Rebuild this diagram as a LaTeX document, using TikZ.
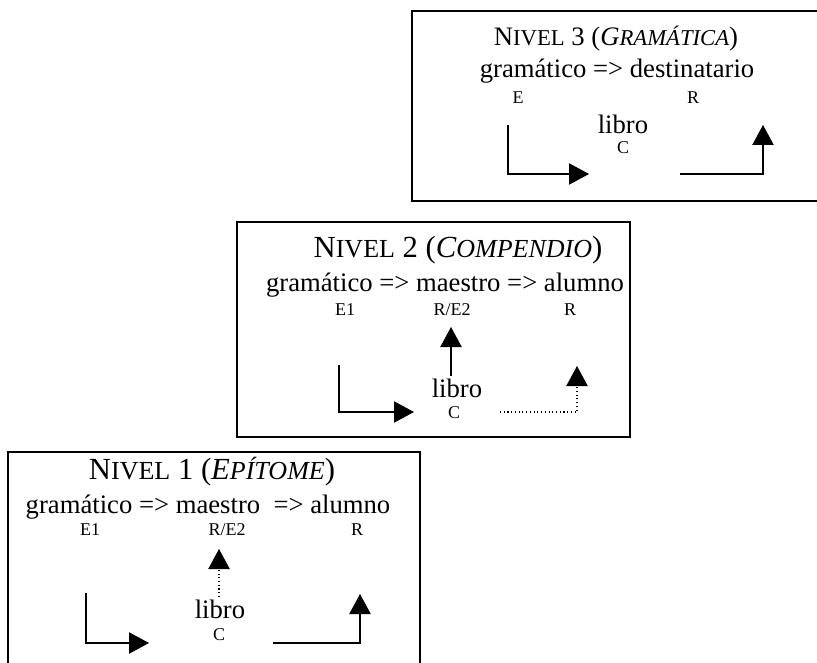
\documentclass[tikz,border=0pt]{standalone}
\usepackage{fontspec}
\setmainfont{Liberation Serif}
\usepackage{tikz}
\usetikzlibrary{positioning,arrows.meta}
\newcommand{\smcaps}[1]{{\fontsize{19.5}{22}\selectfont #1}}
\newcommand{\smcapsb}[1]{{\fontsize{17}{20}\selectfont #1}}

\begin{document}
\begin{tikzpicture}[x=0.75pt,y=-0.75pt,
  frame/.style={draw=black, line width=1.3pt},
  big/.style={inner sep=0pt, font=\fontsize{20}{24}\selectfont},
  head/.style={inner sep=0pt, font=\fontsize{23}{27}\selectfont},
  lbl/.style={inner sep=0pt, font=\fontsize{13.5}{16}\selectfont},
  arrow/.style={-{Triangle[length=15pt,width=16pt]}, line width=0.8pt},
  dotarrow/.style={arrow, dotted}
]
\useasboundingbox (0,0) rectangle (817,663);
\clip (0,0) rectangle (817,663);

% nivel 3
\draw[frame] (412,11) rectangle (850,201);
\node[big] (t3) at (616,39) {N\smcapsb{IVEL} 3 (\textit{G\smcapsb{RAMÁTICA}})};
\node[big] (g3) at (617,71) {gramático => destinatario};
\node[lbl] (e3) at (518,98) {E};
\node[lbl] (r3) at (693,98) {R};
\node[big] (l3) at (623,124) {libro};
\node[lbl] (c3) at (623,148) {C};
\coordinate (a3s) at (508,125);
\coordinate (a3e) at (589,174);
\coordinate (b3s) at (680,174);
\coordinate (b3e) at (763,125);
\draw[arrow] (a3s) |- (a3e);
\draw[arrow] (b3s) -| (b3e);

% nivel 2
\draw[frame] (237,222) rectangle (630,437);
\node[head] (t2) at (458,250) {N\smcaps{IVEL} 2 (\textit{C\smcaps{OMPENDIO}})};
\node[big] (g2) at (445,285) {gramático => maestro => alumno};
\node[lbl] (e2) at (345,310) {E1};
\node[lbl] (m2) at (452,310) {R/E2};
\node[lbl] (r2) at (570,310) {R};
\node[big] (l2) at (457,388) {libro};
\node[lbl] (c2) at (454,413) {C};
\coordinate (u2s) at (451,376);
\coordinate (u2e) at (451,327);
\coordinate (a2s) at (339,365);
\coordinate (a2e) at (414,412);
\coordinate (b2s) at (500,412);
\coordinate (b2e) at (577,366);
\draw[arrow] (u2s) -- (u2e);
\draw[arrow] (a2s) |- (a2e);
\draw[dotarrow] (b2s) -| (b2e);

% nivel 1
\draw[frame] (8,452) rectangle (420,700);
\node[head] (t1) at (212,472) {N\smcaps{IVEL} 1 (\textit{E\smcaps{PÍTOME}})};
\node[big] (g1) at (208,507) {gramático => maestro \ => alumno};
\node[lbl] (e1) at (90,530) {E1};
\node[lbl] (m1) at (227,530) {R/E2};
\node[lbl] (r1) at (357,530) {R};
\node[big] (l1) at (220,609) {libro};
\node[lbl] (c1) at (219,635) {C};
\coordinate (u1s) at (219,597);
\coordinate (u1e) at (219,549);
\coordinate (a1s) at (86,593);
\coordinate (a1e) at (149,643);
\coordinate (b1s) at (273,643);
\coordinate (b1e) at (360,594);
\draw[dotarrow] (u1s) -- (u1e);
\draw[arrow] (a1s) |- (a1e);
\draw[arrow] (b1s) -| (b1e);
\end{tikzpicture}
\end{document}
